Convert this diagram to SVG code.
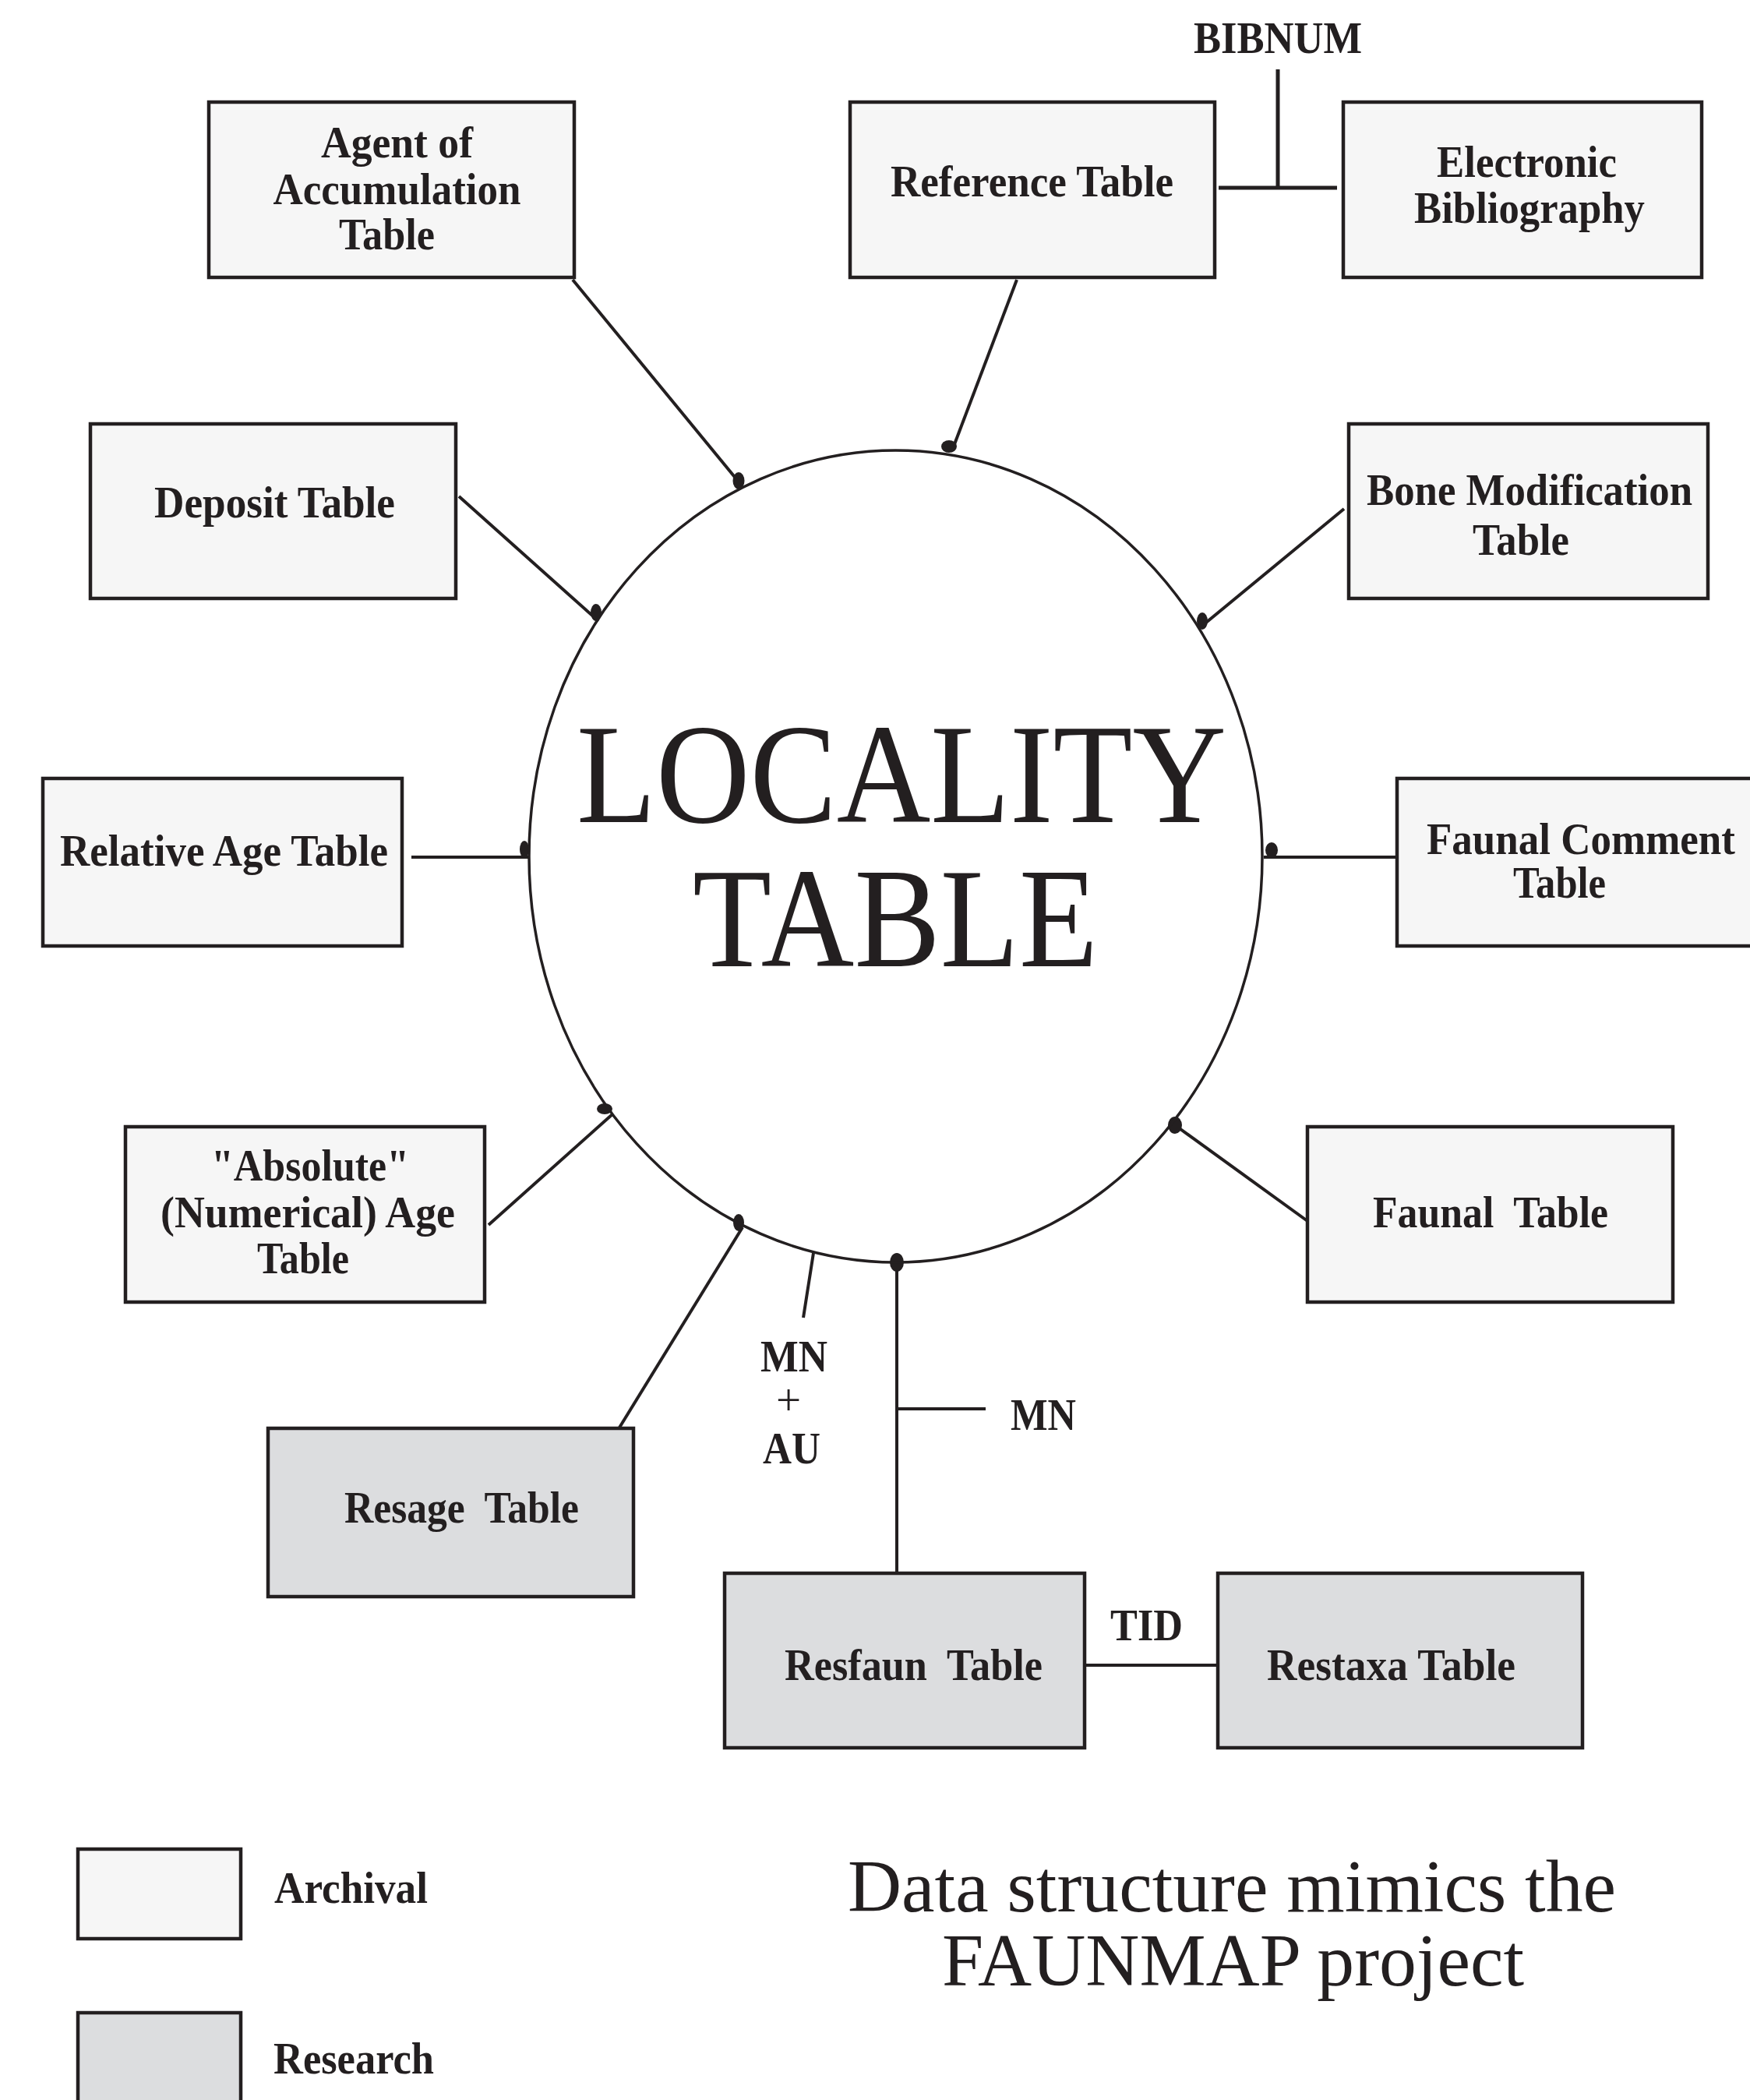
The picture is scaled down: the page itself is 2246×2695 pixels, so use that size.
<svg xmlns="http://www.w3.org/2000/svg" width="2246" height="2695" viewBox="0 0 2246 2695">
  <style>
    .box { stroke: #231f20; stroke-width: 4.5; }
    .arch { fill: #f6f6f6; }
    .res { fill: #dcdddf; }
    .lbl { font-family: "Liberation Serif", "Times New Roman", serif; font-weight: bold; font-size: 57px; fill: #231f20; text-anchor: middle; }
    .big { font-family: "Liberation Serif", "Times New Roman", serif; font-size: 182px; fill: #231f20; text-anchor: middle; }
    .cap { font-family: "Liberation Serif", "Times New Roman", serif; font-size: 96px; fill: #231f20; text-anchor: middle; }
    .plus { font-family: "Liberation Serif", "Times New Roman", serif; font-size: 57px; fill: #231f20; text-anchor: middle; }
    .ln { stroke: #231f20; stroke-width: 4; fill: none; }
    .key { stroke: #231f20; stroke-width: 5; fill: none; }
    .dot { fill: #231f20; }
  </style>
  <rect width="2246" height="2695" fill="#ffffff"/>

  <!-- connectors -->
  <g id="connectors">
    <line class="ln" x1="735" y1="359" x2="951" y2="622"/>
    <line class="ln" x1="1305" y1="359" x2="1222" y2="578"/>
    <line class="ln" x1="589" y1="637" x2="768" y2="797"/>
    <line class="ln" x1="1725" y1="653" x2="1543" y2="803"/>
    <line class="ln" x1="528" y1="1100" x2="679" y2="1100"/>
    <line class="ln" x1="1622" y1="1100" x2="1793" y2="1100"/>
    <line class="ln" x1="627" y1="1572" x2="786" y2="1430"/>
    <line class="ln" x1="1508" y1="1444" x2="1685" y2="1572"/>
    <line class="ln" x1="953" y1="1575" x2="795" y2="1832"/>
    <line class="ln" x1="1044" y1="1608" x2="1031" y2="1691"/>
    <line class="ln" x1="1151" y1="1620" x2="1151" y2="2019"/>
    <line class="ln" x1="1151" y1="1808" x2="1265" y2="1808"/>
    <line class="ln" x1="1393" y1="2137" x2="1563" y2="2137"/>
    <line class="key" x1="1640" y1="89" x2="1640" y2="241"/>
    <line class="key" x1="1564" y1="241" x2="1716" y2="241"/>
    <!-- join dots on the locality ellipse -->
    <ellipse class="dot" cx="948" cy="617" rx="7.5" ry="11"/>
    <ellipse class="dot" cx="1218" cy="573" rx="10" ry="8"/>
    <ellipse class="dot" cx="765" cy="786" rx="7" ry="11"/>
    <ellipse class="dot" cx="1543" cy="797" rx="7" ry="11"/>
    <ellipse class="dot" cx="673" cy="1090" rx="6" ry="11"/>
    <ellipse class="dot" cx="1632" cy="1091" rx="8" ry="10"/>
    <ellipse class="dot" cx="776" cy="1423" rx="10" ry="7"/>
    <ellipse class="dot" cx="1508" cy="1444" rx="9" ry="11"/>
    <ellipse class="dot" cx="948" cy="1569" rx="7" ry="11"/>
    <ellipse class="dot" cx="1151" cy="1620" rx="9" ry="12"/>
  </g>

  <!-- central entity -->
  <g id="locality">
    <ellipse cx="1149.5" cy="1099" rx="470.5" ry="521" fill="none" stroke="#231f20" stroke-width="3.5"/>
    <text class="big" x="1157" y="1055" textLength="834" lengthAdjust="spacingAndGlyphs">LOCALITY</text>
    <text class="big" x="1149" y="1240" textLength="520" lengthAdjust="spacingAndGlyphs">TABLE</text>
  </g>

  <g id="agent">
    <rect class="box arch" x="268" y="131" width="469" height="225"/>
    <text class="lbl" x="509.5" y="202" textLength="195" lengthAdjust="spacingAndGlyphs">Agent of</text>
    <text class="lbl" x="509.5" y="262" textLength="318" lengthAdjust="spacingAndGlyphs">Accumulation</text>
    <text class="lbl" x="496.5" y="320" textLength="123" lengthAdjust="spacingAndGlyphs">Table</text>
  </g>

  <g id="reference">
    <rect class="box arch" x="1091" y="131" width="468" height="225"/>
    <text class="lbl" x="1324.5" y="252" textLength="363" lengthAdjust="spacingAndGlyphs">Reference Table</text>
  </g>

  <g id="bibnum-label">
    <text class="lbl" x="1640" y="68" textLength="216" lengthAdjust="spacingAndGlyphs">BIBNUM</text>
  </g>

  <g id="electronic">
    <rect class="box arch" x="1724" y="131" width="460" height="225"/>
    <text class="lbl" x="1959.5" y="227" textLength="231" lengthAdjust="spacingAndGlyphs">Electronic</text>
    <text class="lbl" x="1963" y="286" textLength="296" lengthAdjust="spacingAndGlyphs">Bibliography</text>
  </g>

  <g id="deposit">
    <rect class="box arch" x="116" y="544" width="469" height="224"/>
    <text class="lbl" x="352.5" y="664" textLength="309" lengthAdjust="spacingAndGlyphs">Deposit Table</text>
  </g>

  <g id="bone">
    <rect class="box arch" x="1731" y="544" width="461" height="224"/>
    <text class="lbl" x="1963" y="648" textLength="418" lengthAdjust="spacingAndGlyphs">Bone Modification</text>
    <text class="lbl" x="1952" y="712" textLength="124" lengthAdjust="spacingAndGlyphs">Table</text>
  </g>

  <g id="relative-age">
    <rect class="box arch" x="55" y="999" width="461" height="215"/>
    <text class="lbl" x="287.5" y="1111" textLength="421" lengthAdjust="spacingAndGlyphs">Relative Age Table</text>
  </g>

  <g id="faunal-comment">
    <rect class="box arch" x="1793" y="999" width="470" height="215"/>
    <text class="lbl" x="2029" y="1096" textLength="396" lengthAdjust="spacingAndGlyphs">Faunal Comment</text>
    <text class="lbl" x="2001.5" y="1152" textLength="119" lengthAdjust="spacingAndGlyphs">Table</text>
  </g>

  <g id="absolute-age">
    <rect class="box arch" x="161" y="1446" width="461" height="225"/>
    <text class="lbl" x="398" y="1515" textLength="254" lengthAdjust="spacingAndGlyphs">"Absolute"</text>
    <text class="lbl" x="395" y="1575" textLength="378" lengthAdjust="spacingAndGlyphs">(Numerical) Age</text>
    <text class="lbl" x="389" y="1634" textLength="118" lengthAdjust="spacingAndGlyphs">Table</text>
  </g>

  <g id="faunal">
    <rect class="box arch" x="1678" y="1446" width="469" height="225"/>
    <text class="lbl" x="1913" y="1575" textLength="302" lengthAdjust="spacingAndGlyphs" xml:space="preserve">Faunal  Table</text>
  </g>

  <g id="resage">
    <rect class="box res" x="344" y="1833" width="469" height="216"/>
    <text class="lbl" x="592.5" y="1954" textLength="301" lengthAdjust="spacingAndGlyphs" xml:space="preserve">Resage  Table</text>
  </g>

  <g id="key-labels">
    <text class="lbl" x="1019" y="1760" textLength="86" lengthAdjust="spacingAndGlyphs">MN</text>
    <text class="plus" x="1012" y="1816">+</text>
    <text class="lbl" x="1016" y="1878" textLength="74" lengthAdjust="spacingAndGlyphs">AU</text>
    <text class="lbl" x="1339" y="1835" textLength="84" lengthAdjust="spacingAndGlyphs">MN</text>
    <text class="lbl" x="1471.5" y="2105" textLength="93" lengthAdjust="spacingAndGlyphs">TID</text>
  </g>

  <g id="resfaun">
    <rect class="box res" x="930" y="2019" width="462" height="224"/>
    <text class="lbl" x="1172.5" y="2156" textLength="331" lengthAdjust="spacingAndGlyphs" xml:space="preserve">Resfaun  Table</text>
  </g>

  <g id="restaxa">
    <rect class="box res" x="1563" y="2019" width="468" height="224"/>
    <text class="lbl" x="1785.5" y="2156" textLength="319" lengthAdjust="spacingAndGlyphs">Restaxa Table</text>
  </g>

  <!-- legend -->
  <g id="legend-archival">
    <rect class="box arch" x="100" y="2373" width="209" height="115"/>
    <text class="lbl" x="450.5" y="2442" textLength="197" lengthAdjust="spacingAndGlyphs">Archival</text>
  </g>
  <g id="legend-research">
    <rect class="box res" x="100" y="2583" width="209" height="140"/>
    <text class="lbl" x="454" y="2661" textLength="206" lengthAdjust="spacingAndGlyphs">Research</text>
  </g>

  <g id="caption">
    <text class="cap" x="1581" y="2453" textLength="986" lengthAdjust="spacingAndGlyphs">Data structure mimics the</text>
    <text class="cap" x="1582.5" y="2548" textLength="747" lengthAdjust="spacingAndGlyphs">FAUNMAP project</text>
  </g>
</svg>
